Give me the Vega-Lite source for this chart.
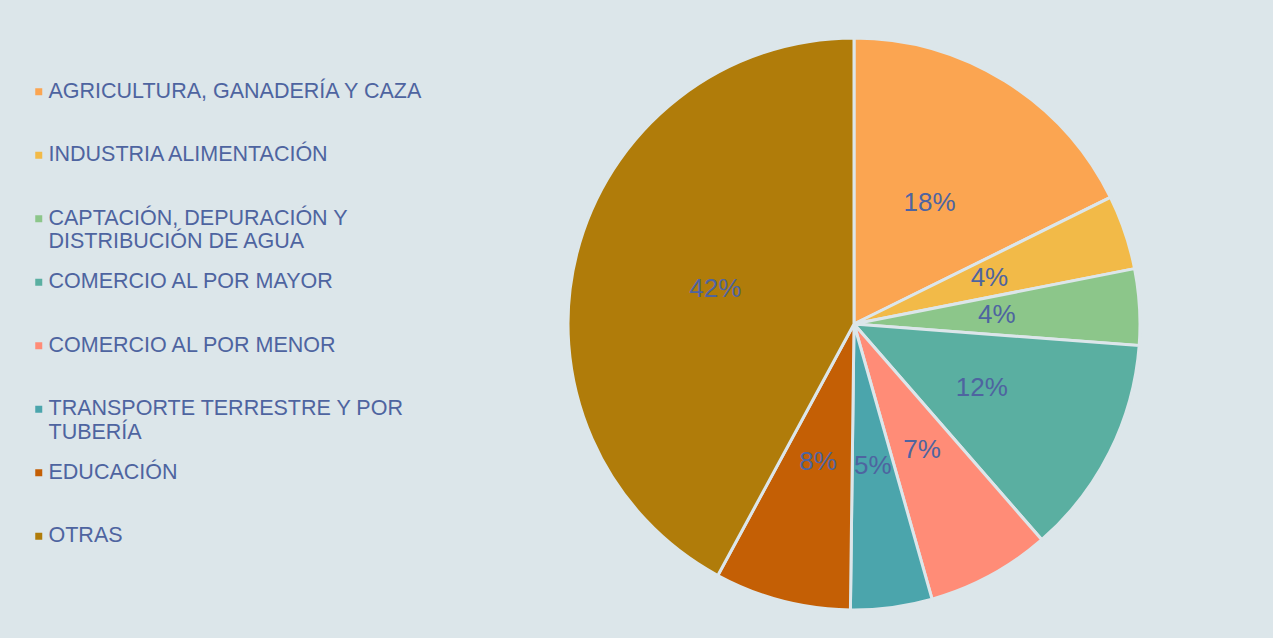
{
  "$schema": "https://vega.github.io/schema/vega-lite/v6.json",
  "width": 600,
  "height": 600,
  "autosize": {"type": "none"},
  "padding": {"left": 554, "top": 24, "right": 119, "bottom": 14},
  "background": "#DCE6EA",
  "config": {"view": {"stroke": null}},
  "data": {
    "values": [
      {"sector": "AGRICULTURA, GANADERÍA Y CAZA", "valor": 0.177, "orden": 1},
      {"sector": "INDUSTRIA ALIMENTACIÓN", "valor": 0.042, "orden": 2},
      {"sector": "CAPTACIÓN, DEPURACIÓN Y|DISTRIBUCIÓN DE AGUA", "valor": 0.043, "orden": 3},
      {"sector": "COMERCIO AL POR MAYOR", "valor": 0.124, "orden": 4},
      {"sector": "COMERCIO AL POR MENOR", "valor": 0.070, "orden": 5},
      {"sector": "TRANSPORTE TERRESTRE Y POR|TUBERÍA", "valor": 0.046, "orden": 6},
      {"sector": "EDUCACIÓN", "valor": 0.077, "orden": 7},
      {"sector": "OTRAS", "valor": 0.421, "orden": 8}
    ]
  },
  "encoding": {
    "theta": {"field": "valor", "type": "quantitative", "stack": true},
    "order": {"field": "orden", "type": "quantitative"}
  },
  "layer": [
    {
      "mark": {"type": "arc", "outerRadius": 286, "stroke": "#DCE6EA", "strokeWidth": 3},
      "encoding": {
        "color": {
          "field": "sector",
          "type": "nominal",
          "scale": {
            "domain": ["AGRICULTURA, GANADERÍA Y CAZA", "INDUSTRIA ALIMENTACIÓN", "CAPTACIÓN, DEPURACIÓN Y|DISTRIBUCIÓN DE AGUA", "COMERCIO AL POR MAYOR", "COMERCIO AL POR MENOR", "TRANSPORTE TERRESTRE Y POR|TUBERÍA", "EDUCACIÓN", "OTRAS"],
            "range": ["#FBA551", "#F2BA48", "#8CC68A", "#5AAFA1", "#FF8C77", "#4BA5AC", "#C45F05", "#B07C0A"]
          },
          "legend": {
            "title": null,
            "orient": "none",
            "legendX": -526,
            "legendY": 57,
            "padding": 0,
            "symbolType": "square",
            "symbolSize": 49,
            "symbolStrokeWidth": 0,
            "labelFont": "Liberation Sans",
            "labelFontSize": 21.5,
            "labelColor": "#4E64A0",
            "labelLimit": 600,
            "labelOffset": -1,
            "rowPadding": 17.5,
            "labelExpr": "[split(datum.label, '|')[0], split(datum.label, '|')[1] || '']"
          }
        }
      }
    },
    {
      "mark": {"type": "text", "radius": 143, "font": "Liberation Sans", "fontSize": 26, "color": "#4E64A0"},
      "encoding": {
        "text": {"field": "valor", "type": "quantitative", "format": ".0%"}
      }
    }
  ]
}
